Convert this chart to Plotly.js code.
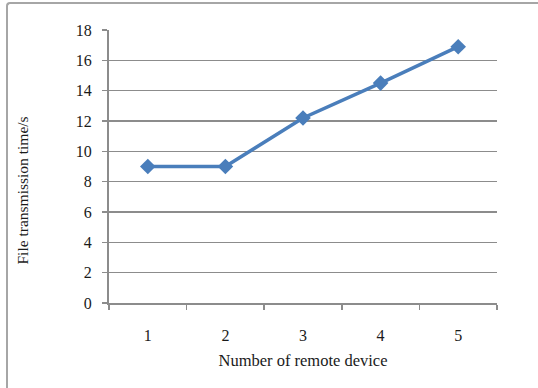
<!DOCTYPE html>
<html><head><meta charset="utf-8">
<script src="https://cdn.plot.ly/plotly-3.0.1.min.js"></script>
<style>
html,body{margin:0;padding:0;background:#fff;overflow:hidden;}
#frame{position:absolute;left:6px;top:2px;width:600px;height:500px;border-left:2px solid #a6a6a6;border-top:2px solid #a6a6a6;border-top-left-radius:4px;}
#chart{position:absolute;left:0;top:0;width:538px;height:388px;}
</style></head>
<body>
<div id="frame"></div>
<div id="chart"></div>
<script>
const categories = ["1","2","3","4","5"];
const times = [9, 9, 12.2, 14.5, 16.9];
const yTicks = [0,2,4,6,8,10,12,14,16,18];
const xTitle = 'Number of remote device';
const yTitle = 'File transmission time/s';

const font = "'Liberation Serif','Times New Roman',serif";
Plotly.newPlot('chart', [{
  x: categories, y: times, type: 'scatter', mode: 'lines+markers',
  line: {color: '#4A7EBB', width: 3.5},
  marker: {symbol: 'diamond', size: 12, color: '#4A7EBB'},
  hoverinfo: 'skip'
}], {
  width: 538, height: 388,
  margin: {l: 109, r: 41, t: 30, b: 85},
  paper_bgcolor: 'rgba(0,0,0,0)', plot_bgcolor: 'rgba(0,0,0,0)',
  showlegend: false,
  font: {family: font, size: 15, color: '#1a1a1a'},
  xaxis: {
    type: 'category', range: [-0.5, 4.5], tickson: 'boundaries',
    ticks: 'outside', ticklen: 5, tickcolor: '#8c8c8c', tickwidth: 1.5,
    showline: true, linecolor: '#8c8c8c', linewidth: 2,
    showgrid: false, zeroline: false, ticklabelstandoff: 17,
    tickfont: {family: font, size: 16},
    title: {text: xTitle, font: {family: font, size: 16.5}, standoff: 11}
  },
  yaxis: {
    range: [0, 18], tickvals: yTicks, ticks: 'outside', ticklen: 5,
    tickcolor: '#8c8c8c', tickwidth: 1.5,
    showline: true, linecolor: '#8c8c8c', linewidth: 2,
    showgrid: true, gridcolor: '#8c8c8c', gridwidth: 1.3, zeroline: false,
    ticklabelstandoff: 7,
    tickfont: {family: font, size: 16}
  },
  annotations: [{
    text: yTitle, xref: 'paper', yref: 'paper', x: 0, y: 0.5,
    xanchor: 'center', yanchor: 'middle', xshift: -87, yshift: -24, textangle: -90,
    showarrow: false, font: {family: font, size: 15.5, color: '#1a1a1a'}
  }]
}, {displayModeBar: false, staticPlot: true});
</script>
</body></html>
